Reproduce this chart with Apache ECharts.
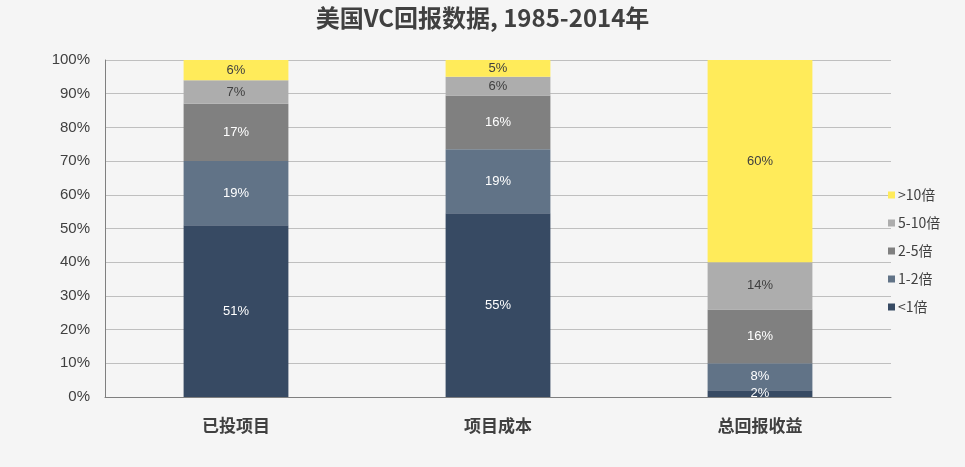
<!DOCTYPE html>
<html><head><meta charset="utf-8">
<script src="https://cdn.jsdelivr.net/npm/echarts@6/dist/echarts.min.js"></script>
<style>html,body{margin:0;padding:0;background:#f5f5f5;}#c{width:965px;height:467px;}</style>
</head><body><div id="c"></div>
<script>
const categories = ['已投项目', '项目成本', '总回报收益'];
const seriesNames = ['<1倍', '1-2倍', '2-5倍', '5-10倍', '>10倍'];
const lt1 = [51, 54.5, 2];
const r1to2 = [19, 19, 8];
const r2to5 = [17, 16, 16];
const r5to10 = [7, 5.5, 14];
const gt10 = [6, 5, 60];
const yTicks = [0, 10, 20, 30, 40, 50, 60, 70, 80, 90, 100];

const colors = ['#374a63', '#617387', '#808080', '#adadad', '#ffeb5a'];
const labelColors = ['#ffffff', '#ffffff', '#ffffff', '#404040', '#404040'];
const values = [lt1, r1to2, r2to5, r5to10, gt10];
const font = '"Noto Sans CJK SC", "Noto Sans", sans-serif';

const chart = echarts.init(document.getElementById('c'));
chart.setOption({
  backgroundColor: '#f5f5f5',
  animation: false,
  title: {
    text: '美国VC回报数据, 1985-2014年', left: 'center', top: 1,
    textStyle: { fontFamily: font, fontWeight: 'bold', fontSize: 24, color: '#404040' }
  },
  grid: { left: 105, right: 74, top: 60, bottom: 70 },
  legend: {
    orient: 'vertical', left: 883, top: 183, itemGap: 14, itemWidth: 7, itemHeight: 7,
    data: seriesNames.slice().reverse(),
    icon: 'rect',
    textStyle: { fontFamily: font, fontSize: 14, color: '#404040', padding: [0, 0, 0, -2] }
  },
  xAxis: {
    type: 'category', data: categories,
    axisLine: { lineStyle: { color: '#7f7f7f' } },
    axisTick: { show: false },
    axisLabel: { fontFamily: font, fontWeight: 'bold', fontSize: 17, color: '#404040', margin: 20 }
  },
  yAxis: {
    type: 'value', min: 0, max: 100, interval: 10,
    axisLine: { show: true, lineStyle: { color: '#7f7f7f' } },
    axisTick: { show: false },
    splitLine: { lineStyle: { color: '#bfbfbf' } },
    axisLabel: {
      fontFamily: '"Liberation Sans", Arial, sans-serif', fontSize: 15, color: '#404040', margin: 15,
      formatter: v => yTicks.includes(v) ? v + '%' : ''
    }
  },
  series: seriesNames.map((n, i) => ({
    name: n, type: 'bar', stack: 'total', barWidth: '40%',
    itemStyle: { color: colors[i] },
    label: {
      show: true, position: 'inside',
      fontFamily: '"Liberation Sans", Arial, sans-serif', fontSize: 13, color: labelColors[i],
      formatter: p => Math.round(p.value) + '%'
    },
    data: values[i]
  }))
});
</script></body></html>
